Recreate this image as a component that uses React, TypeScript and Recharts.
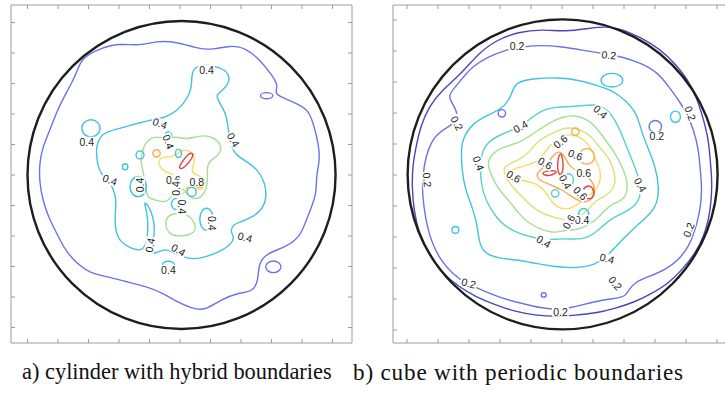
import React from 'react';
import { ComposedChart, Line, Scatter, XAxis, YAxis, ReferenceDot } from 'recharts';

type P = [number, number];
type Loop = [number, number, number, number]; // x, y, rx, ry
type Lbl = { x: number; y: number; text: string; angle: number };

const TICKS = [-5, -4, -3, -2, -1, 0, 1, 2, 3, 4, 5];

// ---- a) cylinder with hybrid boundaries ----
const A_RIM = { x: 0.05, y: 0, r: 5.05 };

const A_02: P[] = [
  [-3.22, 3.83], [-2.62, 4.15], [-2.02, 4.32], [-1.31, 4.23], [-0.77, 4.4], [-0.11, 4.37], [0.55, 4.15],
  [1.09, 4.1], [1.64, 4.26], [2.19, 4.15], [2.62, 3.77], [3.01, 3.28], [3.22, 2.95], [3.11, 2.68],
  [3.28, 2.57], [3.83, 2.35], [4.21, 2.13], [4.37, 1.69], [4.54, 1.04], [4.59, 0.49], [4.46, -0.05],
  [4.48, -0.55], [4.32, -1.04], [4.1, -1.58], [3.93, -2.02], [3.5, -2.35], [2.84, -2.57], [2.57, -2.9],
  [2.57, -3.44], [2.4, -3.83], [1.91, -3.86], [1.31, -4.1], [0.82, -4.45], [0.38, -4.37], [-0.11, -4.15],
  [-0.55, -3.88], [-1.09, -3.66], [-1.75, -3.5], [-2.4, -3.33], [-2.95, -3.22], [-3.39, -2.9],
  [-3.77, -2.46], [-4.04, -1.91], [-4.32, -1.37], [-4.5, -0.82], [-4.61, -0.22], [-4.61, 0.38],
  [-4.5, 0.93], [-4.26, 1.48], [-4.04, 2.08], [-3.83, 2.51], [-3.55, 3.01], [-3.33, 3.5],
];

const A_04: P[] = [
  [0.38, 3.22], [0.44, 3.5], [0.71, 3.61], [1.2, 3.57], [1.58, 3.39], [1.64, 3.06], [1.42, 2.79],
  [1.15, 2.62], [1.31, 2.35], [1.53, 1.97], [1.58, 1.48], [1.66, 1.04], [1.8, 0.66], [2.19, 0.44],
  [2.57, 0.16], [2.79, -0.27], [2.84, -0.71], [2.73, -1.09], [2.4, -1.37], [2.02, -1.53], [1.75, -1.61],
  [1.64, -1.86], [1.8, -2.04], [1.64, -2.3], [1.31, -2.51], [0.87, -2.68], [0.44, -2.77], [0.09, -2.68],
  [-0.22, -2.55], [-0.49, -2.4], [-0.77, -2.57], [-1.04, -2.57], [-0.93, -2.3], [-0.82, -1.91],
  [-0.87, -1.37], [-1.04, -0.98], [-1.2, -0.87], [-1.09, -1.15], [-1.04, -1.69], [-1.09, -2.24],
  [-1.26, -2.51], [-1.64, -2.4], [-1.97, -2.19], [-2.13, -1.8], [-2.13, -1.26], [-2.08, -0.82],
  [-2.19, -0.44], [-2.35, -0.16], [-2.62, 0.05], [-2.73, 0.49], [-2.75, 0.93], [-2.62, 1.26],
  [-2.4, 1.42], [-1.97, 1.53], [-1.42, 1.69], [-0.98, 1.8], [-0.55, 1.86], [-0.11, 2.08], [0.22, 2.46],
  [0.38, 2.84],
];

const A_06: P[] = [
  [-1.2, 0.93], [-1.04, 1.17], [-0.77, 1.28], [-0.44, 1.17], [-0.16, 1.28], [0.22, 1.15], [0.66, 1.31],
  [1.09, 1.26], [1.37, 0.98], [1.31, 0.66], [0.98, 0.49], [0.87, 0.22], [0.93, -0.22], [0.77, -0.71],
  [0.44, -0.82], [0.22, -0.6], [0.05, -0.38], [-0.22, -0.6], [-0.44, -0.93], [-0.77, -0.82],
  [-1.09, -0.77], [-1.11, -0.38], [-1.2, 0.05], [-1.31, 0.49],
];

const A_06_LOW: P[] = [
  [-0.44, -1.37], [-0.22, -1.26], [0.22, -1.26], [0.44, -1.48], [0.55, -1.8], [0.33, -1.97],
  [-0.11, -2.02], [-0.38, -1.91], [-0.49, -1.64],
];

const A_07: P[] = [
  [-0.75, 0.45], [-0.55, 0.62], [-0.3, 0.55], [-0.05, 0.75], [0.2, 0.85], [0.45, 0.7], [0.5, 0.4],
  [0.35, 0.15], [0.5, 0.0], [0.75, -0.05], [0.85, -0.3], [0.7, -0.5], [0.45, -0.45], [0.25, -0.3],
  [0.15, -0.6], [0.0, -0.65], [-0.1, -0.4], [-0.05, -0.1], [-0.3, 0.05], [-0.6, 0.15],
];

const A_10: P[] = [[-0.04, 0.2], [0.0, 0.34], [0.28, 0.72], [0.42, 0.72], [0.44, 0.6], [0.14, 0.22]];

const A_LOOPS_02: Loop[] = [[2.84, 2.6, 0.2, 0.1], [3.06, -3.01, 0.25, 0.19]];
const A_LOOPS_04: Loop[] = [
  [-2.92, 1.53, 0.3, 0.28], [-0.38, 1.28, 0.11, 0.14], [-1.31, 0.66, 0.13, 0.13], [-1.8, 0.27, 0.09, 0.1],
  [-0.05, 0.71, 0.1, 0.14], [0.38, -0.55, 0.15, 0.15], [-1.37, -0.38, 0.27, 0.33], [-0.13, -0.95, 0.15, 0.18],
  [0.87, -1.45, 0.22, 0.36], [-0.38, -2.95, 0.2, 0.12],
];
const A_LOOPS_08: Loop[] = [[-0.77, 0.71, 0.12, 0.12], [0.62, -0.25, 0.2, 0.15]];

const A_LABELS: Lbl[] = [
  { x: 0.87, y: 3.44, text: '0.4', angle: 0 },
  { x: -0.66, y: 1.69, text: '0.4', angle: 20 },
  { x: -0.38, y: 1.09, text: '0.4', angle: 70 },
  { x: -3.06, y: 1.09, text: '0.4', angle: 0 },
  { x: 1.75, y: 1.15, text: '0.4', angle: 60 },
  { x: -2.3, y: -0.16, text: '0.4', angle: 20 },
  { x: -1.31, y: -0.33, text: '0.4', angle: -90 },
  { x: -0.22, y: -0.16, text: '0.6', angle: 0 },
  { x: 0.55, y: -0.22, text: '0.8', angle: 0 },
  { x: -0.11, y: -0.44, text: '0.4', angle: -90 },
  { x: 0.05, y: -1.04, text: '0.4', angle: 90 },
  { x: 1.04, y: -1.58, text: '0.4', angle: 90 },
  { x: 2.13, y: -2.04, text: '0.4', angle: 15 },
  { x: -0.98, y: -2.3, text: '0.4', angle: -80 },
  { x: -0.05, y: -2.46, text: '0.4', angle: 30 },
  { x: -0.38, y: -3.11, text: '0.4', angle: 0 },
];

// ---- b) cube with periodic boundaries ----
const B_RIM = { x: 0.02, y: 0.02, r: 5.0 };

const B_01: P[] = [
  [-4.73, 0.81], [-4.57, 1.56], [-4.3, 2.2], [-3.87, 2.74], [-3.23, 3.28], [-2.8, 3.82], [-2.15, 4.35],
  [-1.4, 4.62], [-0.65, 4.7], [0.11, 4.62], [0.86, 4.73], [1.51, 4.81], [2.15, 4.62], [2.9, 4.25],
  [3.44, 3.82], [3.87, 3.33], [4.19, 2.85], [4.41, 2.31], [4.57, 1.77], [4.73, 1.13], [4.78, 0.48],
  [4.84, -0.16], [4.82, -0.81], [4.73, -1.45], [4.57, -1.99], [4.3, -2.53], [3.87, -3.06], [3.44, -3.49],
  [2.9, -3.82], [2.37, -4.09], [1.72, -4.3], [1.08, -4.46], [0.43, -4.52], [-0.22, -4.57], [-0.86, -4.52],
  [-1.51, -4.41], [-2.15, -4.19], [-2.8, -3.92], [-3.33, -3.6], [-3.87, -3.17], [-4.3, -2.53],
  [-4.62, -1.88], [-4.78, -1.13], [-4.84, -0.38], [-4.82, 0.27],
];

const B_02: P[] = [
  [-2.9, 3.49], [-2.37, 3.82], [-1.83, 4.03], [-1.29, 4.14], [-0.65, 4.19], [0, 4.14], [0.65, 4.03],
  [1.29, 3.92], [1.94, 3.82], [2.58, 3.6], [3.12, 3.28], [3.44, 2.85], [3.76, 2.42], [4.03, 1.99],
  [4.25, 1.45], [4.41, 0.81], [4.46, 0.16], [4.52, -0.48], [4.46, -1.13], [4.3, -1.77], [4.09, -2.31],
  [3.76, -2.74], [3.33, -3.06], [2.8, -3.28], [2.37, -3.44], [2.15, -3.71], [2.04, -3.92], [1.72, -3.98],
  [1.29, -4.03], [0.65, -4.19], [0, -4.35], [-0.65, -4.3], [-1.29, -4.14], [-1.94, -3.98], [-2.58, -3.71],
  [-3.12, -3.49], [-3.55, -3.17], [-3.92, -2.74], [-4.19, -2.2], [-4.35, -1.67], [-4.46, -1.02],
  [-4.52, -0.38], [-4.46, 0.27], [-4.3, 0.91], [-4.03, 1.34], [-3.66, 1.56], [-3.33, 1.77], [-3.44, 2.2],
  [-3.71, 2.53], [-3.44, 2.85], [-3.12, 3.23],
];

const B_03: P[] = [
  [-3.23, 1.13], [-2.9, 1.67], [-2.37, 1.94], [-1.83, 2.2], [-1.61, 2.63], [-1.51, 3.01], [-0.86, 3.12],
  [-0.11, 3.15], [0.54, 3.06], [1.08, 2.9], [1.61, 2.74], [2.04, 2.42], [2.42, 1.99], [2.58, 1.34],
  [2.8, 0.81], [3.01, 0.27], [3.14, -0.38], [3.06, -1.02], [2.69, -1.4], [2.26, -1.77], [1.83, -2.2],
  [1.45, -2.63], [1.08, -2.9], [0.43, -3.01], [-0.22, -2.96], [-0.86, -2.85], [-1.4, -2.74], [-2.04, -2.69],
  [-2.53, -2.53], [-2.69, -2.1], [-2.74, -1.56], [-2.9, -1.02], [-3.12, -0.48], [-3.23, 0.16], [-3.25, 0.7],
];

const B_04: P[] = [
  [-2.63, 0.59], [-2.47, 1.02], [-1.94, 1.34], [-1.4, 1.51], [-1.08, 1.77], [-0.65, 2.1], [-0.22, 2.2],
  [0.43, 2.2], [1.08, 2.31], [1.51, 2.1], [1.83, 1.56], [2.04, 1.02], [2.26, 0.48], [2.47, -0.05],
  [2.58, -0.59], [2.37, -1.02], [1.94, -1.24], [1.51, -1.45], [1.08, -1.88], [0.65, -2.1], [0, -2.04],
  [-0.43, -2.1], [-0.86, -2.04], [-1.4, -1.88], [-1.83, -1.67], [-2.15, -1.34], [-2.47, -0.81], [-2.63, -0.27],
];

const B_05: P[] = [
  [-2.37, 0.59], [-1.94, 0.91], [-1.4, 1.02], [-1.08, 1.24], [-0.75, 1.45], [-0.43, 1.67], [0, 1.88],
  [0.43, 1.94], [0.86, 1.77], [1.08, 1.56], [1.4, 1.13], [1.72, 0.7], [1.94, 0.27], [2.15, -0.27],
  [2.04, -0.81], [1.61, -0.91], [1.29, -1.24], [0.97, -1.56], [0.54, -1.77], [0.11, -1.77], [-0.22, -1.88],
  [-0.65, -1.77], [-1.08, -1.56], [-1.4, -1.24], [-1.72, -0.81], [-2.04, -0.48], [-2.26, -0.05], [-2.39, 0.27],
];

const B_06: P[] = [
  [-1.94, 0.27], [-1.4, 0.48], [-1.08, 0.7], [-0.86, 1.02], [-0.54, 1.24], [-0.22, 1.4], [0.22, 1.56],
  [0.65, 1.45], [0.97, 1.24], [1.18, 0.91], [1.51, 0.59], [1.72, 0.05], [1.72, -0.38], [1.4, -0.7],
  [1.08, -0.81], [0.86, -1.13], [0.43, -1.45], [0, -1.45], [-0.32, -1.34], [-0.65, -1.24], [-0.97, -1.02],
  [-1.29, -0.7], [-1.61, -0.38], [-1.83, -0.05],
];

const B_07: P[] = [
  [-1.72, 0.16], [-1.29, 0.27], [-0.86, 0.38], [-0.65, 0.59], [-0.43, 0.91], [-0.11, 1.24], [0.32, 1.34],
  [0.75, 1.13], [0.97, 0.81], [1.08, 0.48], [1.29, 0.05], [1.18, -0.38], [0.97, -0.59], [0.65, -0.81],
  [0.43, -1.02], [0.11, -1.13], [-0.22, -1.02], [-0.43, -0.7], [-0.65, -0.38], [-0.97, -0.22],
  [-1.4, -0.16], [-1.67, -0.05],
];

const B_08: P[] = [
  [-0.86, 0.05], [-0.54, 0.27], [-0.32, 0.59], [-0.11, 0.81], [0.11, 0.59], [0.22, 0.27], [0.65, 0.05],
  [0.97, -0.16], [1.08, -0.48], [0.97, -0.81], [0.65, -0.91], [0.32, -0.7], [0, -0.48], [-0.22, -0.38],
  [-0.48, -0.27], [-0.75, -0.16],
];

const B_10_SPIKE: P[] = [[-0.12, 0.0], [-0.16, 0.4], [-0.05, 0.8], [0.05, 0.45], [0.02, 0.0]];
const B_10_ARM: P[] = [[-0.72, 0.05], [-0.4, 0.16], [-0.08, 0.12], [-0.4, -0.06]];
const B_10_LOOP: P[] = [[0.65, -0.5], [0.8, -0.32], [1.02, -0.4], [1.05, -0.7], [0.85, -0.8], [0.68, -0.7]];

const B_LOOPS_02: Loop[] = [[-1.94, 1.99, 0.12, 0.12], [3.01, 1.56, 0.2, 0.2], [-0.59, -3.87, 0.08, 0.07]];
const B_LOOPS_03: Loop[] = [
  [1.61, 3.06, 0.35, 0.22], [3.66, 1.88, 0.16, 0.18], [-3.44, -1.77, 0.11, 0.11], [0.7, -1.24, 0.16, 0.16],
];
const B_LOOPS_04: Loop[] = [[-0.22, -0.59, 0.12, 0.12], [0.22, -0.16, 0.15, 0.2]];
const B_LOOPS_08: Loop[] = [[0.43, 1.4, 0.12, 0.12], [0.8, 0.6, 0.25, 0.25]];

const B_LABELS: Lbl[] = [
  { x: -1.45, y: 4.14, text: '0.2', angle: 0 },
  { x: 1.51, y: 3.87, text: '0.2', angle: 5 },
  { x: -3.39, y: 1.67, text: '0.2', angle: 60 },
  { x: 4.14, y: 1.99, text: '0.2', angle: 70 },
  { x: 3.06, y: 1.24, text: '0.2', angle: 0 },
  { x: -4.35, y: -0.16, text: '0.2', angle: 85 },
  { x: 4.09, y: -1.77, text: '0.2', angle: -70 },
  { x: -3.01, y: -3.49, text: '0.2', angle: 15 },
  { x: 1.72, y: -3.49, text: '0.2', angle: 50 },
  { x: -0.05, y: -4.41, text: '0.2', angle: 0 },
  { x: -1.34, y: 1.56, text: '0.4', angle: -30 },
  { x: 1.24, y: 2.04, text: '0.4', angle: 40 },
  { x: -2.69, y: 0.38, text: '0.4', angle: 70 },
  { x: 2.53, y: -0.32, text: '0.4', angle: 60 },
  { x: -0.59, y: -2.15, text: '0.4', angle: 30 },
  { x: 1.45, y: -2.69, text: '0.4', angle: 15 },
  { x: 0.65, y: -1.45, text: '0.4', angle: 0 },
  { x: 0.11, y: -0.22, text: '0.4', angle: 60 },
  { x: -0.05, y: 1.08, text: '0.6', angle: -40 },
  { x: 0.43, y: 0.65, text: '0.6', angle: 20 },
  { x: -0.54, y: 0.38, text: '0.6', angle: 30 },
  { x: -1.56, y: -0.05, text: '0.6', angle: 30 },
  { x: 0.7, y: 0.05, text: '0.6', angle: 0 },
  { x: 0.22, y: -1.51, text: '0.6', angle: -60 },
  { x: 0.59, y: -0.59, text: '0.6', angle: 45 },
];

const C = {
  violet: '#4646bc',
  blue: '#6a74e4',
  cyan: '#3ec4e0',
  teal: '#56d2cc',
  green: '#a4e092',
  lime: '#d2e67a',
  yellow: '#f6dc66',
  orange: '#f5ac52',
  red: '#e4403c',
};

type Curve = { pts: P[]; color: string };
type LoopSet = { loops: Loop[]; color: string };

const toRows = (pts: P[]) => pts.map(([x, y]) => ({ x, y }));

const LabelMark = (props: any) => {
  const { cx, cy, payload } = props;
  if (cx == null || cy == null) return null;
  return (
    <g transform={`translate(${cx},${cy}) rotate(${payload.angle})`}>
      <rect x={-8.5} y={-5} width={17} height={10} fill="#ffffff" />
      <text x={0} y={3.8} textAnchor="middle" fontSize={10.5} fontFamily="'Liberation Sans', Arial, sans-serif" fill="#222">
        {payload.text}
      </text>
    </g>
  );
};

function Panel(props: {
  left: number; top: number; w: number; h: number;
  xDomain: [number, number]; yDomain: [number, number];
  rim: { x: number; y: number; r: number };
  curves: Curve[]; loopSets: LoopSet[]; labels: Lbl[];
}) {
  const { left, top, w, h, xDomain, yDomain, rim, curves, loopSets, labels } = props;
  const kx = (w - 2) / (xDomain[1] - xDomain[0]);
  const ky = (h - 2) / (yDomain[1] - yDomain[0]);
  const axis = { stroke: '#9c9c9c', tickSize: -4, tickFormatter: () => '', interval: 0 as const, ticks: TICKS, allowDataOverflow: true };
  return (
    <div style={{ position: 'absolute', left, top }}>
      <ComposedChart width={w} height={h} margin={{ top: 0, right: 0, bottom: 0, left: 0 }}>
        <XAxis type="number" dataKey="x" domain={xDomain} height={1} {...axis} />
        <XAxis xAxisId="top" orientation="top" type="number" dataKey="x" domain={xDomain} height={1} {...axis} />
        <YAxis type="number" dataKey="y" domain={yDomain} width={1} {...axis} />
        <YAxis yAxisId="right" orientation="right" type="number" dataKey="y" domain={yDomain} width={1} {...axis} />
        <ReferenceDot
          x={rim.x}
          y={rim.y}
          shape={(p: any) => (
            <ellipse cx={p.cx} cy={p.cy} rx={rim.r * kx} ry={rim.r * ky} fill="none" stroke="#1e1e1e" strokeWidth={2.4} />
          )}
        />
        {curves.map((c, i) => (
          <Line
            key={`c${i}`}
            data={toRows(c.pts)}
            dataKey="y"
            type="basisClosed"
            stroke={c.color}
            strokeWidth={1.4}
            dot={false}
            activeDot={false}
            isAnimationActive={false}
          />
        ))}
        {loopSets.flatMap((s, j) =>
          s.loops.map(([x, y, rx, ry], i) => (
            <ReferenceDot
              key={`l${j}-${i}`}
              x={x}
              y={y}
              shape={(p: any) => (
                <ellipse cx={p.cx} cy={p.cy} rx={rx * kx} ry={ry * ky} fill="none" stroke={s.color} strokeWidth={1.4} />
              )}
            />
          ))
        )}
        <Scatter data={labels} shape={LabelMark} isAnimationActive={false} />
      </ComposedChart>
    </div>
  );
}

const caption: React.CSSProperties = {
  position: 'absolute',
  top: 362,
  fontFamily: "'Liberation Serif', 'Times New Roman', serif",
  fontSize: 22.4,
  lineHeight: '20px',
  whiteSpace: 'nowrap',
  color: '#111',
};

export default function App() {
  return (
    <div style={{ position: 'absolute', left: 0, top: 0, width: 725, height: 396, overflow: 'hidden', background: '#fff' }}>
      <Panel
        left={10}
        top={4}
        w={343}
        h={340}
        xDomain={[-5.541, 5.639]}
        yDomain={[-5.508, 5.574]}
        rim={A_RIM}
        curves={[
          { pts: A_02, color: C.blue },
          { pts: A_04, color: C.cyan },
          { pts: A_06, color: C.green },
          { pts: A_06_LOW, color: C.green },
          { pts: A_07, color: C.yellow },
          { pts: A_10, color: C.red },
        ]}
        loopSets={[
          { loops: A_LOOPS_02, color: C.blue },
          { loops: A_LOOPS_04, color: C.cyan },
          { loops: A_LOOPS_08, color: C.orange },
        ]}
        labels={A_LABELS}
      />
      <Panel
        left={392}
        top={4}
        w={341}
        h={340}
        xDomain={[-5.452, 5.484]}
        yDomain={[-5.419, 5.484]}
        rim={B_RIM}
        curves={[
          { pts: B_01, color: C.violet },
          { pts: B_02, color: C.blue },
          { pts: B_03, color: C.cyan },
          { pts: B_04, color: C.teal },
          { pts: B_05, color: C.green },
          { pts: B_06, color: C.lime },
          { pts: B_07, color: C.yellow },
          { pts: B_08, color: C.orange },
          { pts: B_10_SPIKE, color: C.red },
          { pts: B_10_ARM, color: C.red },
          { pts: B_10_LOOP, color: C.red },
        ]}
        loopSets={[
          { loops: B_LOOPS_02, color: C.blue },
          { loops: B_LOOPS_03, color: C.cyan },
          { loops: B_LOOPS_04, color: C.teal },
          { loops: B_LOOPS_08, color: C.orange },
        ]}
        labels={B_LABELS}
      />
      <div style={{ ...caption, left: 22 }}>a) cylinder with hybrid boundaries</div>
      <div style={{ ...caption, left: 353, fontSize: 23.2, letterSpacing: 0.8 }}>b) cube with periodic boundaries</div>
    </div>
  );
}
